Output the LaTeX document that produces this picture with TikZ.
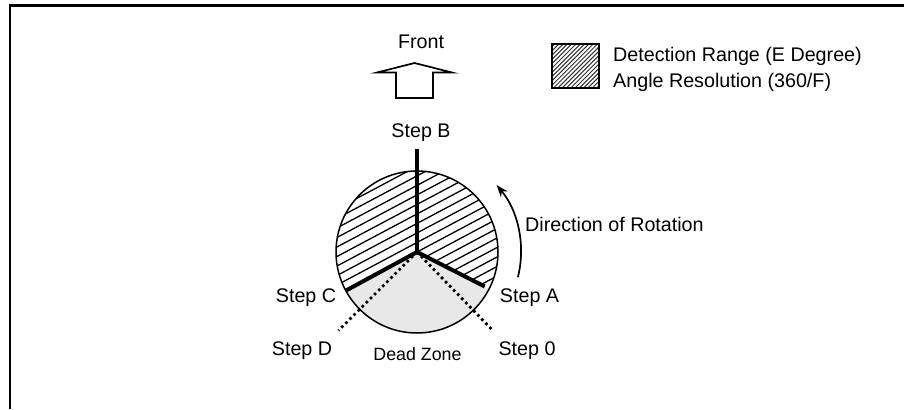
\documentclass[tikz,border=0pt]{standalone}
\usepackage{fontspec}
\setmainfont{Liberation Sans}
\usetikzlibrary{arrows.meta}
\definecolor{deadgray}{RGB}{232,232,232}
\tikzset{
  lbl/.style={inner sep=0pt, anchor=base, font=\fontsize{19.7bp}{22bp}\selectfont},
  lbll/.style={inner sep=0pt, anchor=base west, font=\fontsize{19.7bp}{22bp}\selectfont},
  spoke/.style={line width=4bp, line cap=butt},
  dotspoke/.style={line width=2.8bp, dash pattern=on 2.6bp off 3.2bp},
  hatch/.style={line width=1.3bp},
}
\begin{document}
\begin{tikzpicture}[x=1bp,y=1bp]
\useasboundingbox (0,0) rectangle (904,409);
% frame
\draw[line width=2.4bp] (10,0) -- (10,403.5) -- (904,403.5);

% centre
\coordinate (O) at (417,157);
\def\R{81}
% dead zone fill
\fill[deadgray] (O) -- ++(208.5:\R) arc[start angle=208.5, end angle=333, radius=\R] -- cycle;
% hatched detection range
\begin{scope}
  \clip (O) -- ++(-27:\R) arc[start angle=-27, end angle=208.5, radius=\R] -- cycle;
  \foreach \k in {-14,...,14} {
    \draw[hatch] ({417 - \k*8.4*sin(28) - 130*cos(28)}, {157 + \k*8.4*cos(28) - 130*sin(28)})
              -- ({417 - \k*8.4*sin(28) + 130*cos(28)}, {157 + \k*8.4*cos(28) + 130*sin(28)});
  }
\end{scope}
\draw[line width=1.5bp] (O) circle[radius=\R];

% spokes
\coordinate (pB) at (417,260);
\path (O) ++(-27:76) coordinate (pA);
\path (O) ++(208.5:\R) coordinate (pC);
\path (O) ++(-46:110) coordinate (p0);
\path (O) ++(225:111) coordinate (pD);
\draw[dotspoke] (O) -- (p0);
\draw[dotspoke] (O) -- (pD);
\draw[line width=3.2bp] (O) -- (pB);
\draw[spoke] (O) -- (pA);
\draw[spoke] (O) -- (pC);

% rotation arrow
\path (O) ++(-14:104) coordinate (r1);
\draw[line width=1.7bp, -{Stealth[length=12bp, width=9bp]}] (r1) arc[start angle=-14, end angle=40, radius=104];

% labels
\node[lbl] (tB) at (421,272) {Step B};
\node[lbl] (tA) at (529.5,107) {Step A};
\node[lbl] (tC) at (306,107) {Step C};
\node[lbl] (tD) at (302,54) {Step D};
\node[lbl] (t0) at (527,54) {Step 0};
\node[inner sep=0pt, anchor=base, font=\fontsize{17.8bp}{20bp}\selectfont] (tDZ) at (417.5,49) {Dead Zone};
\node[lbll] (tRot) at (525,178) {Direction of Rotation};

% front arrow
\node[lbl] (tF) at (421,361) {Front};
\draw[line width=1.7bp, line join=miter] (414.5,346) -- (452,336.5) -- (433,336.5) -- (433,311) -- (396,311) -- (396,336.5) -- (377,336.5) -- cycle;

% legend
\begin{scope}
  \clip (552,321) rectangle (599,365);
  \foreach \k in {-14,...,14} {
    \draw[line width=1bp, black!80] ({575.5 + \k*4.3 - 40}, {343 - 40}) -- ({575.5 + \k*4.3 + 40}, {343 + 40});
  }
\end{scope}
\node[draw, line width=2.8bp, minimum width=47bp, minimum height=44bp, inner sep=0pt] (leg) at (575.5,343) {};
\node[lbll] (l1) at (613,348) {Detection Range (E Degree)};
\node[lbll] (l2) at (613,322) {Angle Resolution (360/F)};
\end{tikzpicture}
\end{document}
